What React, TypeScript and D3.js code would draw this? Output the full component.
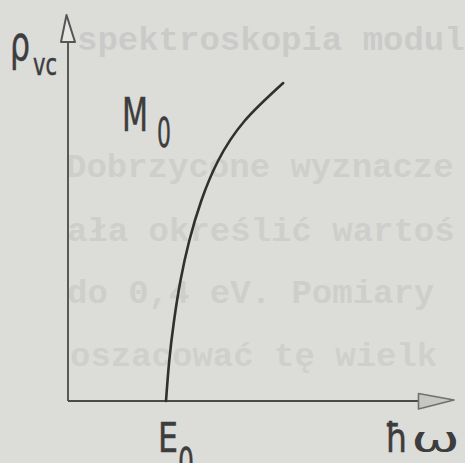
import React from "react";
import * as d3 from "d3";

// Curve ρ_vc(ħω) rising from the M0 edge, in axis units (0..100)
const photonEnergy = [25.39, 26.22, 27.46, 29.12, 31.4, 34.51, 38.86, 45.73, 55.75];
const density = [0, 10.36, 20.73, 31.09, 41.45, 51.81, 62.18, 72.54, 82.38];

const yAxisLabel = "ρ";
const yAxisSub = "vc";
const xAxisLabel = ["ħ", "ω"];
const pointLabel = ["M", "0"];
const edgeLabel = ["E", "0"];
const edgeValue = 25.39;

// Typed lines of the page beneath the drawing
const pageLines = [
  "spektroskopia modul",
  "Dobrzycone wyznacze",
  "ała określić wartoś",
  "do 0,4 eV. Pomiary",
  "oszacować tę wielk",
];
const pageLineX = [77, 66, 67, 67, 70];
const pageLineY = [50, 177, 241, 303, 366];
const pageLineOpacity = [0.075, 0.06, 0.06, 0.06, 0.055];

const W = 465;
const H = 463;

export default function App() {
  const x = d3.scaleLinear().domain([0, 100]).range([68, 454]);
  const y = d3.scaleLinear().domain([0, 100]).range([401, 15]);

  const pts: [number, number][] = photonEnergy.map((e, i) => [x(e), y(density[i])]);
  const line = d3.line().curve(d3.curveNatural)(pts) || "";

  const ink = "#3d3d3d";
  const x0 = x(0);
  const y0 = y(0);
  // arrow heads
  const yTip = y(100);
  const yBase = y(93);
  const xTip = x(100);
  const xBase = x(90.8);

  return (
    <svg
      width={W}
      height={H}
      viewBox={`0 0 ${W} ${H}`}
      style={{ position: "absolute", left: 0, top: 0, display: "block" }}
    >
      <rect x={0} y={0} width={W} height={H} fill="#dcdcd9" />

      {pageLines.map((t, i) => (
        <text
          key={i}
          x={pageLineX[i]}
          y={pageLineY[i]}
          fontFamily="'Liberation Mono', 'DejaVu Sans Mono', monospace"
          fontWeight="bold"
          fontSize={34}
          fill="#000"
          opacity={pageLineOpacity[i]}
        >
          {t}
        </text>
      ))}

      {/* axes */}
      <line x1={x0} y1={y0} x2={x0} y2={yBase} stroke="#4a4a4a" strokeWidth={1.8} />
      <line x1={x0} y1={y0} x2={xBase} y2={y0} stroke="#4a4a4a" strokeWidth={2} />
      <path
        d={`M${x0 - 7},${yBase} L${x0 - 1.5},${yTip} L${x0 + 7},${yBase} Z`}
        fill="#e6e6e4"
        stroke="#555"
        strokeWidth={2}
        strokeLinejoin="round"
      />
      <path
        d={`M${xBase},${y0 - 7.5} L${xTip},${y0 - 1} L${xBase},${y0 + 8} Z`}
        fill="#c6c6c3"
        stroke="#707070"
        strokeWidth={1.6}
        strokeLinejoin="round"
      />

      {/* curve */}
      <path d={line} fill="none" stroke="#303030" strokeWidth={2.6} strokeLinecap="round" />

      {/* labels */}
      <g fontFamily="'DejaVu Sans', sans-serif" fill={ink} stroke={ink} strokeWidth={0.5}>
        <text x={10} y={60} fontSize={48} textLength={20} lengthAdjust="spacingAndGlyphs">
          {yAxisLabel}
        </text>
        <text x={33} y={75} fontSize={31} textLength={24} lengthAdjust="spacingAndGlyphs">
          {yAxisSub}
        </text>

        <text x={122} y={131} fontSize={46} textLength={26} lengthAdjust="spacingAndGlyphs">
          {pointLabel[0]}
        </text>
        <text x={157} y={147} fontSize={41} textLength={14} lengthAdjust="spacingAndGlyphs">
          {pointLabel[1]}
        </text>

        <text x={x(edgeValue) - 8} y={452} fontSize={40} textLength={20} lengthAdjust="spacingAndGlyphs">
          {edgeLabel[0]}
        </text>
        <text x={x(edgeValue) + 12} y={477} fontSize={41} textLength={16} lengthAdjust="spacingAndGlyphs">
          {edgeLabel[1]}
        </text>

        <text x={385} y={452} fontSize={41} textLength={23} lengthAdjust="spacingAndGlyphs">
          {xAxisLabel[0]}
        </text>
        <text
          x={411}
          y={452}
          fontSize={35}
          textLength={49}
          lengthAdjust="spacingAndGlyphs"
          strokeWidth={0}
        >
          {xAxisLabel[1]}
        </text>
      </g>
    </svg>
  );
}
